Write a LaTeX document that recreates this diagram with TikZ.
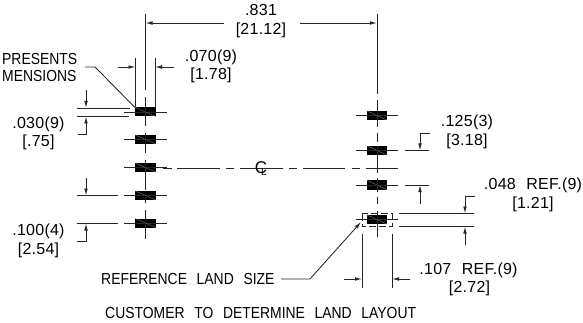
\documentclass[tikz,border=0pt]{standalone}
\usepackage{fontspec}
\usepackage{xcolor}
\usetikzlibrary{arrows.meta}
\newfontfamily\numfont[LetterSpace=1.5]{Liberation Sans}
\newfontfamily\reffont[LetterSpace=1.5,WordSpace=1.5]{Liberation Sans}
\newfontfamily\capfont[FakeStretch=0.87,WordSpace=2.5]{Liberation Sans}
\tikzset{
  dimline/.style={line width=0.85pt,black!85},
  dimarrow/.style={dimline,-{Latex[length=7pt,width=3.6pt]}},
  padbox/.style={fill=black,draw=none,minimum width=21pt,minimum height=9pt,inner sep=0pt},
  numtext/.style={font=\numfont\fontsize{16}{16}\selectfont,inner sep=0pt,anchor=center},
  reftext/.style={font=\reffont\fontsize{16}{16}\selectfont,inner sep=0pt,anchor=center},
  captext/.style={font=\capfont\fontsize{16}{16}\selectfont,inner sep=0pt,anchor=center}
}
\begin{document}
\begin{tikzpicture}[x=1pt,y=-1pt]
        \useasboundingbox (0,0) rectangle (583,323);
        % Left column of lands
        \foreach \n/\y in {1/112,2/139.5,3/167.5,4/195.5,5/223} {
            \node[padbox] (l\n) at (145.5,\y) {};
            \draw[dimline] (124,\y) -- (167,\y);
            \draw[black!45,line width=0.3pt] (l\n.north west) -- (l\n.south east);
        }
        % Right column of lands
        \foreach \n/\y in {1/115.5,2/150.5,3/185,4/219.5} {
            \node[padbox,minimum width=20pt] (r\n) at (377,\y) {};
            \draw[dimline] (356,\y) -- (398,\y);
            \draw[black!45,line width=0.3pt] (r\n.north west) -- (r\n.south east);
        }
        % Centre lines
        \foreach \a/\b in {14/90,97/126,133/153,160/190,197/203,210/239} {
            \draw[dimline] (145.5,\a) -- (145.5,\b);
        }
        \foreach \a/\b in {14/94,100/127,133/142,146/173,178/192,197/204,211/237} {
            \draw[dimline] (377,\a) -- (377,\b);
        }
        \foreach \a/\b in {163/172,177/220,226/234,240/283,289/297,303/345,352/360,366/398} {
            \draw[dimline] (\a,168) -- (\b,168);
        }
        \node[numtext,font=\numfont\fontsize{17}{17}\selectfont] (clc) at (261,168) {C};
        \node[numtext,font=\numfont\fontsize{10}{10}\selectfont] (cll) at (264,172) {L};
        % .831
        \node[numtext] (d831) at (261,10) {.831};
        \node[numtext] (d831b) at (261,30) {[21.12]};
        \draw[dimarrow] (224,23) -- (145.5,23);
        \draw[dimarrow] (300,23) -- (377,23);
        % .070
        \node[numtext] (d070) at (211,57) {.070(9)};
        \node[numtext] (d070b) at (211,75) {[1.78]};
        \draw[dimline] (135.5,58) -- (135.5,107);
        \draw[dimline] (155,58) -- (155,107);
        \draw[dimarrow] (118,67) -- (135.5,67);
        \draw[dimarrow] (174,67) -- (155,67);
        % Note at top left
        \node[captext,anchor=west] (note1) at (2,59) {PRESENTS};
        \node[captext,anchor=west] (note2) at (2,76) {MENSIONS};
        \draw[dimline] (85,67) -- (95,67) -- (l1.north west);
        % .030
        \node[numtext] (d030) at (38.5,124) {.030(9)};
        \node[numtext] (d030b) at (38.5,142) {[.75]};
        \draw[dimline] (77,108) -- (130,108);
        \draw[dimline] (77,116.5) -- (129,116.5);
        \draw[dimarrow] (86,90) -- (86,108);
        \draw[dimarrow] (78,134) -- (86,134) -- (86,116.5);
        % .100
        \node[numtext] (d100) at (38.5,231) {.100(4)};
        \node[numtext] (d100b) at (38.5,250) {[2.54]};
        \draw[dimline] (77,195.5) -- (118,195.5);
        \draw[dimline] (77,223.5) -- (118,223.5);
        \draw[dimarrow] (86,178) -- (86,195.5);
        \draw[dimarrow] (77,241) -- (86,241) -- (86,223.5);
        % .125
        \node[numtext] (d125) at (467,122) {.125(3)};
        \node[numtext] (d125b) at (467,141) {[3.18]};
        \draw[dimline] (405,150.5) -- (429,150.5);
        \draw[dimline] (405,185) -- (429,185);
        \draw[dimarrow] (430,133) -- (420,133) -- (420,150.5);
        \draw[dimarrow] (420,204) -- (420,185);
        % Reference land
        \draw[dimline,dash pattern=on 7pt off 3pt] (362,213.5) rectangle (392,226.5);
        \draw[dimline] (399,213.5) -- (474,213.5);
        \draw[dimline] (399,226.5) -- (474,226.5);
        \draw[dimarrow] (475,196) -- (465,196) -- (465,213.5);
        \draw[dimarrow] (465,245) -- (465,226.5);
        \node[reftext] (d048) at (533,185) {.048 REF.(9)};
        \node[numtext] (d048b) at (533,204) {[1.21]};
        % .107
        \draw[dimline] (362,234) -- (362,288);
        \draw[dimline] (392,234) -- (392,288);
        \draw[dimarrow] (344,279) -- (362,279);
        \draw[dimarrow] (410,279) -- (392,279);
        \node[reftext] (d107) at (468.5,270) {.107 REF.(9)};
        \node[numtext] (d107b) at (469.5,288) {[2.72]};
        % Bottom notes
        \node[captext,anchor=west] (size) at (101,279) {REFERENCE LAND SIZE};
        \draw[dimarrow] (281,279) -- (310,279) -- (361,222);
        \node[captext,anchor=west] (layout) at (105,313) {CUSTOMER TO DETERMINE LAND LAYOUT};
    \end{tikzpicture}
\end{document}
